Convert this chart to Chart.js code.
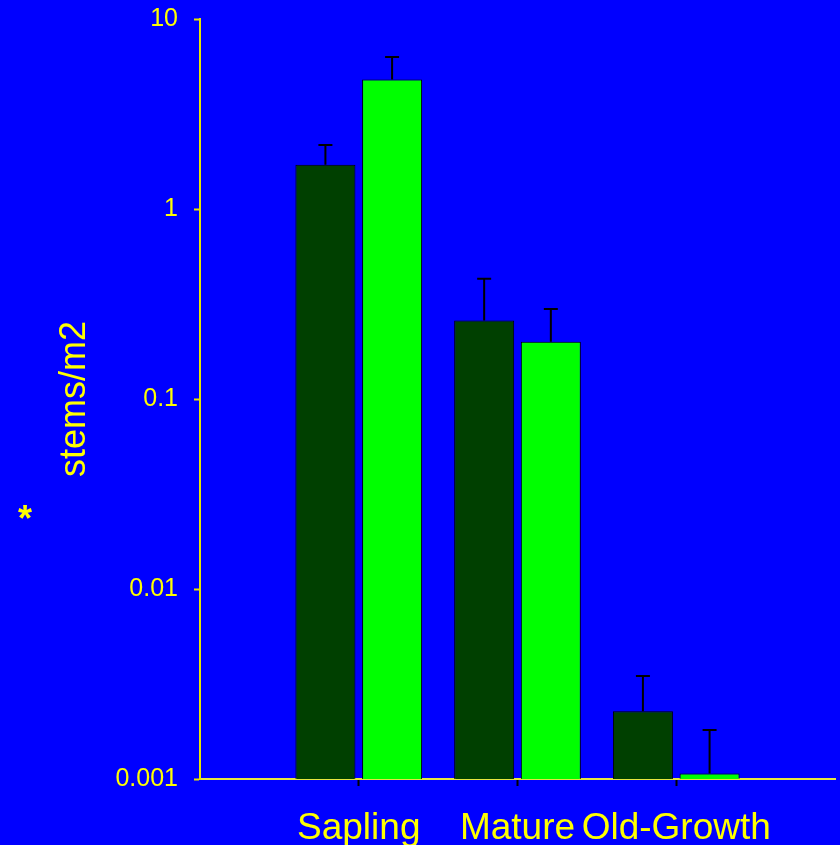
<!DOCTYPE html>
<html>
<head>
<meta charset="utf-8">
<script src="https://cdn.jsdelivr.net/npm/chart.js@4"></script>
<style>
  html, body { margin: 0; padding: 0; background: #0000ff; }
  #wrap { width: 840px; height: 845px; }
</style>
</head>
<body>
<div id="wrap"><canvas id="stems-chart"></canvas></div>
<script>
const categories = ["Sapling", "Mature", "Old-Growth"];
const positions = [1, 2, 3];            // category slots on the x axis (0 and 4 are empty margins)
const darkValues = [1.71, 0.259, 0.00227];
const darkErrors = [2.17, 0.430, 0.00348];   // top of the error bar
const lightValues = [4.80, 0.200, 0.00107];
const lightErrors = [6.31, 0.298, 0.00181];
const yTicks = [0.001, 0.01, 0.1, 1, 10];

const FONT = "'Liberation Sans', Arial, sans-serif";
const YELLOW = "#ffff00";

// draws the upper error bars from the bar top to the value in errors[]
const errorBars = {
  id: "errorBars",
  afterDatasetsDraw(chart) {
    const ctx = chart.ctx;
    const y = chart.scales.y;
    chart.data.datasets.forEach((ds, di) => {
      const meta = chart.getDatasetMeta(di);
      meta.data.forEach((bar, i) => {
        const top = y.getPixelForValue(ds.errors[i]);
        ctx.save();
        ctx.strokeStyle = "#000000";
        ctx.lineWidth = 2;
        ctx.beginPath();
        ctx.moveTo(bar.x, bar.y);
        ctx.lineTo(bar.x, top);
        ctx.moveTo(bar.x - 7, top);
        ctx.lineTo(bar.x + 7, top);
        ctx.stroke();
        ctx.restore();
      });
    });
  }
};

// the asterisk beside the axis title
const asterisk = {
  id: "asterisk",
  afterDraw(chart) {
    const ctx = chart.ctx;
    ctx.save();
    ctx.fillStyle = YELLOW;
    ctx.font = "bold 36px " + FONT;
    ctx.textAlign = "center";
    ctx.textBaseline = "alphabetic";
    ctx.fillText("*", 25, 531);
    ctx.restore();
  }
};

function noPad(scale) {
  scale.paddingTop = 0;
  scale.paddingBottom = 0;
  scale.paddingLeft = 0;
  scale.paddingRight = 0;
}

new Chart("stems-chart", {
  type: "bar",
  data: {
    labels: positions,
    datasets: [
      {
        label: "dark",
        data: darkValues,
        errors: darkErrors,
        backgroundColor: "#004000",
        borderColor: "#000000",
        borderWidth: 1
      },
      {
        label: "light",
        data: lightValues,
        errors: lightErrors,
        backgroundColor: "#00ff00",
        borderColor: "#000000",
        borderWidth: 1
      }
    ]
  },
  options: {
    responsive: true,
    maintainAspectRatio: false,
    animation: false,
    layout: { padding: { top: 19, right: 5, bottom: 0, left: 0 } },
    datasets: { bar: { categoryPercentage: 0.84, barPercentage: 0.9 } },
    plugins: {
      legend: { display: false },
      tooltip: { enabled: false }
    },
    scales: {
      x: {
        type: "linear",
        min: 0,
        max: 4,
        offset: false,
        afterBuildTicks: (scale) => { scale.ticks = [0, 1, 2, 3, 4].map(v => ({ value: v })); },
        afterFit: (scale) => { scale.height = 66; noPad(scale); },
        border: { color: "#e6e640", width: 2 },
        grid: {
          offset: false,
          drawOnChartArea: false,
          tickLength: 7,
          tickWidth: 2,
          color: (c) => (c.tick && c.tick.value >= 1 && c.tick.value <= 3) ? "#000000" : "rgba(0,0,0,0)"
        },
        ticks: {
          autoSkip: false,
          maxRotation: 0,
          padding: 21,
          color: YELLOW,
          font: { family: FONT, size: 37 },
          callback: (v) => categories[v - 1] || ""
        }
      },
      y: {
        type: "logarithmic",
        min: 0.001,
        max: 10,
        afterBuildTicks: (scale) => { scale.ticks = yTicks.map(v => ({ value: v })); },
        afterFit: (scale) => { scale.width = 200; noPad(scale); },
        border: { color: "#e6e600", width: 2 },
        grid: { drawOnChartArea: false, tickLength: 6, tickWidth: 2, color: "#e6e600" },
        ticks: {
          padding: 16,
          color: YELLOW,
          font: { family: FONT, size: 25 },
          callback: (v) => String(v)
        },
        title: {
          display: true,
          text: "stems/m2",
          color: YELLOW,
          font: { family: FONT, size: 36 },
          padding: { top: 53, bottom: 0 }
        }
      }
    }
  },
  plugins: [errorBars, asterisk]
});
</script>
</body>
</html>
